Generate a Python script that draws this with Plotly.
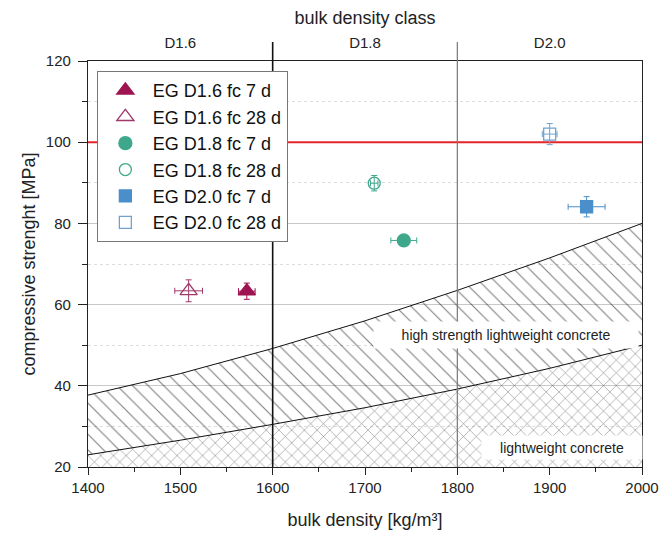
import plotly.graph_objects as go

# ---- data ----
series_names = ["EG D1.6 fc 7 d", "EG D1.6 fc 28 d", "EG D1.8 fc 7 d",
                "EG D1.8 fc 28 d", "EG D2.0 fc 7 d", "EG D2.0 fc 28 d"]
density = [1572, 1509, 1742, 1710, 1940, 1900]
strength = [63.3, 63.4, 75.8, 89.9, 84.1, 102.0]
density_err = [9, 15, 14, 4, 20, 8]
strength_err = [2.0, 2.7, 1.0, 1.9, 2.5, 2.6]
symbols = ["triangle-up", "triangle-up-open", "circle", "circle-open", "square", "square-open"]
colors = ["#9E1450", "#A0386A", "#3FA88C", "#3FA88C", "#4A8FCA", "#6FA3CF"]
sizes = [15, 15, 13, 12, 12, 12]

# boundary curves of the concrete regions
bound_x = [1400, 1500, 1600, 1700, 1800, 1900, 2000]
lwc_upper = [23.0, 26.6, 30.5, 34.6, 39.2, 44.3, 50.0]
hslwc_upper = [37.7, 43.0, 49.2, 56.0, 63.5, 71.5, 80.0]
base_y = [20, 20, 20, 20, 20, 20, 20]

class_pos = [1500, 1700, 1900]
class_labels = ["D1.6", "D1.8", "D2.0"]
class_bounds = [1600, 1800]
limit_y = 100

fig = go.Figure()

# hatched regions
fig.add_trace(go.Scatter(x=bound_x, y=base_y, mode="lines", line=dict(width=0),
                         showlegend=False, hoverinfo="skip"))
fig.add_trace(go.Scatter(x=bound_x, y=lwc_upper, mode="lines",
                         line=dict(color="#111", width=1), fill="tonexty",
                         fillcolor="rgba(0,0,0,0)",
                         fillpattern=dict(shape="x", size=9, solidity=0.12,
                                          fgcolor="#000", bgcolor="rgba(0,0,0,0)"),
                         showlegend=False, hoverinfo="skip"))
fig.add_trace(go.Scatter(x=bound_x, y=hslwc_upper, mode="lines",
                         line=dict(color="#111", width=1), fill="tonexty",
                         fillcolor="rgba(0,0,0,0)",
                         fillpattern=dict(shape="\\", size=11, solidity=0.1,
                                          fgcolor="#000", bgcolor="rgba(0,0,0,0)"),
                         showlegend=False, hoverinfo="skip"))

# red limit line
fig.add_trace(go.Scatter(x=[1400, 2000], y=[limit_y, limit_y], mode="lines",
                         line=dict(color="#E3242B", width=2),
                         showlegend=False, hoverinfo="skip"))

# data points
for i in range(len(series_names)):
    fig.add_trace(go.Scatter(
        x=[density[i]], y=[strength[i]], mode="markers", name=series_names[i],
        marker=dict(symbol=symbols[i], size=sizes[i], color=colors[i],
                    line=dict(color=colors[i], width=1.3)),
        error_x=dict(type="data", array=[density_err[i]], color=colors[i],
                     thickness=1, width=3),
        error_y=dict(type="data", array=[strength_err[i]], color=colors[i],
                     thickness=1, width=3),
    ))

# dummy trace for top axis
fig.add_trace(go.Scatter(x=[1400, 2000], y=[20, 20], xaxis="x2", mode="markers",
                         marker=dict(opacity=0), showlegend=False, hoverinfo="skip"))

# class boundaries
for xb, col, w in zip(class_bounds, ["#111", "#777"], [1.6, 1.2]):
    fig.add_shape(type="line", xref="x", yref="paper", x0=xb, x1=xb, y0=0, y1=1.047,
                  line=dict(color=col, width=w), layer="above")

# region labels
fig.add_annotation(x=1853, y=52.6, text="high strength lightweight concrete",
                   showarrow=False, bgcolor="white", width=262, height=24,
                   font=dict(size=14, color="#222"))
fig.add_annotation(x=1913, y=24.7, text="lightweight concrete",
                   showarrow=False, bgcolor="white", width=158, height=21,
                   font=dict(size=14, color="#222"))

font_family = "Liberation Sans, Arial, sans-serif"
fig.update_layout(
    width=660, height=535,
    margin=dict(l=88, r=18, t=61, b=68),
    paper_bgcolor="white", plot_bgcolor="white",
    font=dict(family=font_family, color="#222", size=14),
    xaxis=dict(range=[1400, 2000], dtick=100, tick0=1400, ticks="outside", ticklen=7,
               tickcolor="#222", showline=True, linecolor="#222", linewidth=1.3,
               mirror=True, showgrid=False, zeroline=False, automargin=False,
               tickfont=dict(size=15),
               minor=dict(dtick=50, ticks="outside", ticklen=4, tickcolor="#222"),
               title=dict(text="bulk density [kg/m³]", font=dict(size=18), standoff=18)),
    xaxis2=dict(range=[1400, 2000], overlaying="x", side="top", tickmode="array",
                tickvals=class_pos, ticktext=class_labels, ticks="outside", ticklen=6,
                tickcolor="rgba(0,0,0,0)", showline=False, automargin=False,
                showgrid=False, zeroline=False, tickfont=dict(size=15),
                title=dict(text="bulk density class", font=dict(size=18), standoff=4)),
    yaxis=dict(range=[20, 120], dtick=20, tick0=20, ticks="outside", ticklen=9,
               tickcolor="#222", showline=True, linecolor="#222", linewidth=1.3,
               mirror=True, showgrid=True, gridcolor="#C8C8C8", gridwidth=1,
               zeroline=False, automargin=False, tickfont=dict(size=15),
               ticklabelstandoff=4,
               minor=dict(dtick=10, ticks="outside", ticklen=5, tickcolor="#222",
                          showgrid=True, gridcolor="#DDDDDD", griddash="dot"),
               title=dict(text="compressive strenght [MPa]", font=dict(size=18), standoff=5)),
    legend=dict(x=0.016, y=0.975, xanchor="left", yanchor="top", traceorder="normal",
                bgcolor="white", bordercolor="#777", borderwidth=1,
                font=dict(size=18, color="#111"), tracegroupgap=0, itemwidth=45),
)

fig.write_html("out.html")
